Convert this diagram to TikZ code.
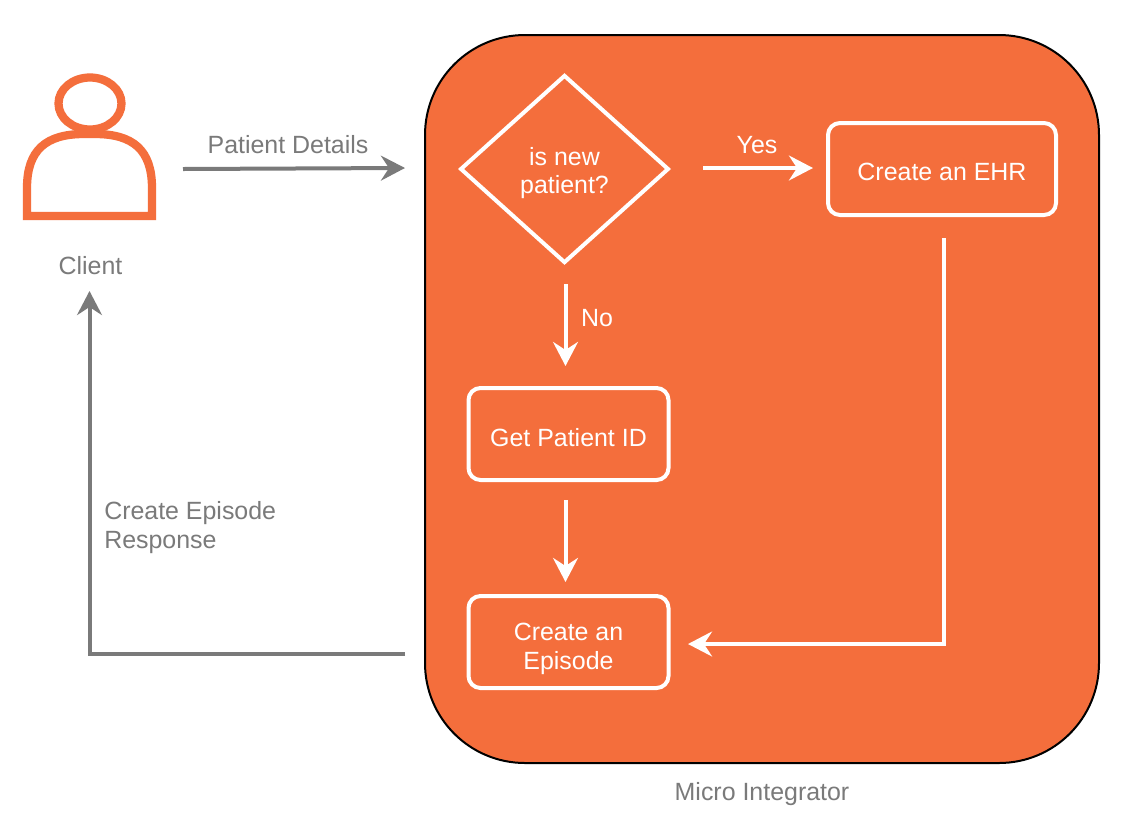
\documentclass[tikz,border=0pt]{standalone}
\usepackage{fontspec}
\setmainfont{Liberation Sans}
\usetikzlibrary{arrows.meta,shapes.geometric,calc}
\definecolor{mio}{HTML}{F46E3C}
\definecolor{gtx}{HTML}{7A7A7A}
\begin{document}
\begin{tikzpicture}[x=0.75pt,y=-0.75pt,
  lbl/.style={font=\fontsize{18.7}{21.6}\selectfont,align=center,inner sep=0pt},
  wtx/.style={lbl,text=white},
  gty/.style={lbl,text=gtx},
  wbox/.style={draw=white,line width=3pt,rounded corners=9pt,fill=mio,minimum height=0.75pt*96-3pt,inner sep=0pt},
  warrow/.style={draw=white,line width=3pt,-{Stealth[length=18pt,width=18.6pt,inset=6pt]}},
  garrow/.style={draw=gtx,line width=3pt,-{Stealth[length=18pt,width=18.6pt,inset=6pt]}}]
\useasboundingbox (0,0) rectangle (1128,826);
\fill[white] (0,0) rectangle (1128,826);
% container
\node[draw=black,line width=1.5pt,fill=mio,rounded corners=75pt,minimum width=505.5pt,minimum height=546pt,inner sep=0pt] (mi) at (762,399) {};
\node[gty] (milabel) at (762,794.5) {Micro Integrator};
% client
\draw[mio,line width=6.2pt] (90,103.5) ellipse [x radius=31.5,y radius=26];
\draw[mio,line width=6.2pt,fill=white,miter limit=10]
  (27,216) -- (27,188) .. controls (27,150) and (46,134) .. (84,134)
  -- (95,134) .. controls (133,134) and (152,150) .. (152,188) -- (152,216) -- cycle;
\node[inner sep=0pt,minimum width=100pt,minimum height=110pt] (client) at (89.5,147) {};
\node[gty] (clientlabel) at (90.5,266) {Client};
% decision
\node[diamond,draw=white,line width=3pt,fill=mio,aspect=1.1,minimum width=156.5pt,minimum height=141pt,inner sep=0pt] (dec) at (564.5,169) {};
\node[wtx] (dectext) at (564.5,173) {is new\\patient?};
% boxes
\node[wbox,minimum width=0.75pt*232-3pt] (ehr) at (942,169) {};
\node[wtx] (ehrtext) at (942,172) {Create an EHR};
\node[wbox,minimum width=0.75pt*204-3pt] (get) at (568.5,434) {};
\node[wtx] (gettext) at (568.5,438) {Get Patient ID};
\node[wbox,minimum width=0.75pt*204-3pt] (ep) at (568.5,642) {};
\node[wtx] (eptext) at (568.5,649) {Create an\\Episode};
% labels
\node[gty] (pd) at (288,145) {Patient Details};
\node[gty,align=left,anchor=west] (resp) at (104,527.5) {Create Episode\\Response};
\node[wtx] (yes) at (757,145) {Yes};
\node[wtx] (no) at (597,318) {No};
% connector ends
\coordinate (c1) at (183,169);
\coordinate (c2) at (405,168);
\coordinate (r1) at (405,654);
\coordinate (r2) at (89.5,654);
\coordinate (r3) at (89.5,291);
\coordinate (y1) at (703,168);
\coordinate (y2) at (813,168);
\coordinate (n1) at (565.5,284);
\coordinate (n2) at (565.5,366);
\coordinate (g1) at (565.5,500);
\coordinate (g2) at (565.5,582);
\coordinate (e1) at (944,238);
\coordinate (e2) at (944,644);
\coordinate (e3) at (688,644);
% connectors
\draw[garrow] (c1) -- (c2);
\draw[garrow] (r1) -- (r2) -- (r3);
\draw[warrow] (y1) -- (y2);
\draw[warrow] (n1) -- (n2);
\draw[warrow] (g1) -- (g2);
\draw[warrow] (e1) -- (e2) -- (e3);
\end{tikzpicture}
\end{document}
